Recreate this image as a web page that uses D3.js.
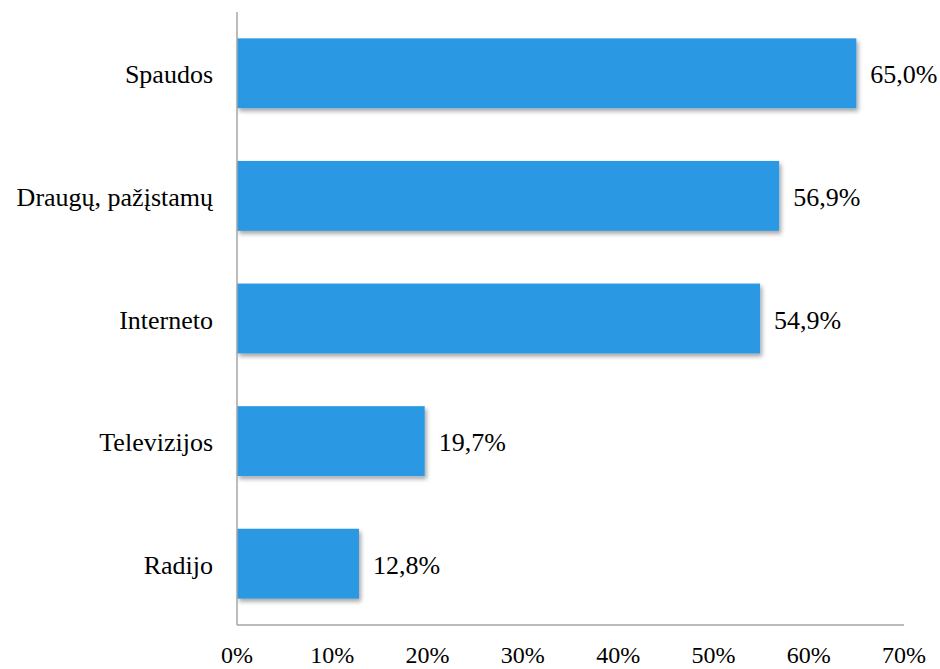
<!DOCTYPE html>
<html>
<head>
<meta charset="utf-8">
<script src="https://cdn.jsdelivr.net/npm/d3@7"></script>
<style>
  body { margin: 0; background: #fff; }
</style>
</head>
<body>
<div id="graph"></div>
<script>
let categories = ["Spaudos", "Draugų, pažįstamų", "Interneto", "Televizijos", "Radijo"];
let values = [65.0, 56.9, 54.9, 19.7, 12.8];
let tickValues = [0, 10, 20, 30, 40, 50, 60, 70];

let width = 940, height = 669;
let margin = {top: 12, right: 36, bottom: 44, left: 237};
let font = "'Liberation Serif', 'Times New Roman', Times, 'DejaVu Serif', serif";

let svg = d3.select("#graph").append("svg")
    .attr("width", width)
    .attr("height", height)
    .style("font-family", font);

let defs = svg.append("defs");
let shadow = defs.append("filter")
    .attr("id", "shadow")
    .attr("x", "-5%").attr("y", "-10%")
    .attr("width", "115%").attr("height", "130%");
shadow.append("feDropShadow")
    .attr("dx", 2).attr("dy", 3)
    .attr("stdDeviation", 2)
    .attr("flood-color", "#000")
    .attr("flood-opacity", 0.35);

let x_scale = d3.scaleLinear()
    .domain([0, 70])
    .range([margin.left, width - margin.right]);

let y_scale = d3.scaleBand()
    .domain(categories)
    .range([margin.top, height - margin.bottom])
    .paddingInner(0.43)
    .paddingOuter(0.215);

let axisColor = "#a6a6a6";

// bars
svg.selectAll("rect.bar")
    .data(values)
    .enter().append("rect")
    .attr("class", "bar")
    .attr("x", x_scale(0))
    .attr("y", (d, i) => y_scale(categories[i]))
    .attr("width", d => x_scale(d) - x_scale(0))
    .attr("height", y_scale.bandwidth())
    .attr("fill", "#2a98e2")
    .attr("filter", "url(#shadow)");

// axes lines
svg.append("line")
    .attr("x1", x_scale(0)).attr("x2", x_scale(0))
    .attr("y1", margin.top).attr("y2", height - margin.bottom)
    .attr("stroke", axisColor).attr("stroke-width", 1.5);

svg.append("line")
    .attr("x1", x_scale(0)).attr("x2", x_scale(70))
    .attr("y1", height - margin.bottom).attr("y2", height - margin.bottom)
    .attr("stroke", axisColor).attr("stroke-width", 1.5);

// category labels
svg.selectAll("text.cat")
    .data(categories)
    .enter().append("text")
    .attr("class", "cat")
    .attr("x", x_scale(0) - 24)
    .attr("y", d => y_scale(d) + y_scale.bandwidth() / 2 + 10)
    .attr("text-anchor", "end")
    .style("font-family", font)
    .style("font-size", "26px")
    .text(d => d);

// value labels
svg.selectAll("text.val")
    .data(values)
    .enter().append("text")
    .attr("class", "val")
    .attr("x", d => x_scale(d) + 14)
    .attr("y", (d, i) => y_scale(categories[i]) + y_scale.bandwidth() / 2 + 10)
    .style("font-family", font)
    .style("font-size", "26px")
    .text(d => d.toFixed(1).replace(".", ",") + "%");

// tick labels
svg.selectAll("text.tick")
    .data(tickValues)
    .enter().append("text")
    .attr("class", "tick")
    .attr("x", d => x_scale(d))
    .attr("y", height - 6)
    .attr("text-anchor", "middle")
    .style("font-family", font)
    .style("font-size", "24px")
    .text(d => d + "%");
</script>
</body>
</html>
